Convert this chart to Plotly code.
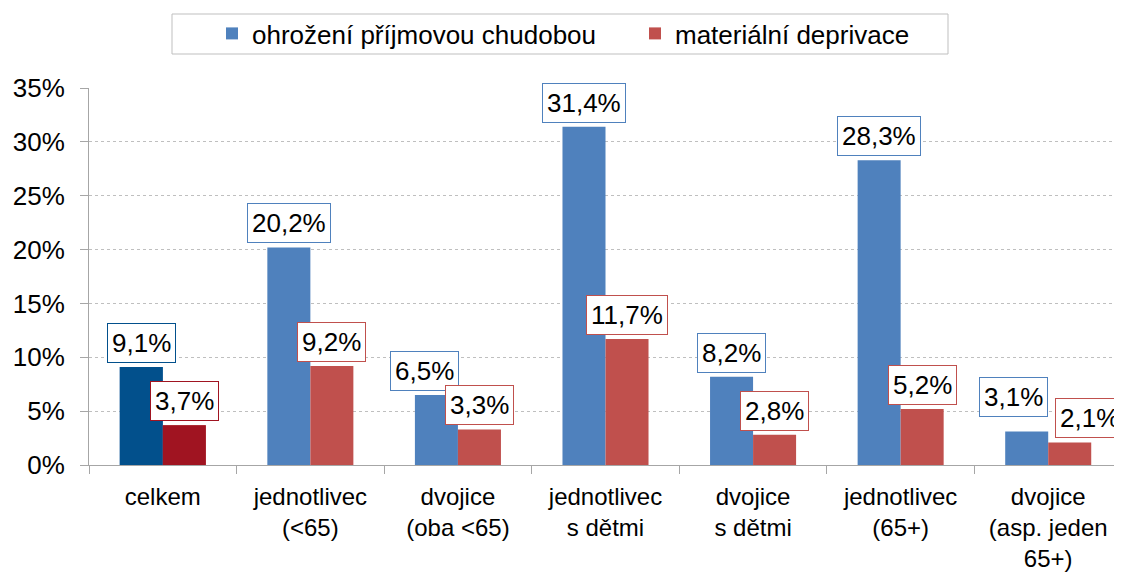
import plotly.graph_objects as go

categories = ["celkem", "jednotlivec<br>(&lt;65)", "dvojice<br>(oba &lt;65)", "jednotlivec<br>s dětmi",
              "dvojice<br>s dětmi", "jednotlivec<br>(65+)", "dvojice<br>(asp. jeden<br>65+)"]
series_names = ["ohrožení příjmovou chudobou", "materiální deprivace"]
poverty = [9.1, 20.2, 6.5, 31.4, 8.2, 28.3, 3.1]
deprivation = [3.7, 9.2, 3.3, 11.7, 2.8, 5.2, 2.1]
y_ticks = [0, 5, 10, 15, 20, 25, 30, 35]

BLUE, RED = "#4F81BD", "#C0504D"
BLUE_D, RED_D = "#02508C", "#A01421"
FONT = "Liberation Sans, Arial, sans-serif"
FS = 26

# the page body adds an 8px offset, so the figure is laid out 8px smaller
OFF = 8
W, H = 1122 - OFF, 572 - OFF
ML, MT = 89 - OFF, 88 - OFF
MR, MB = 0, 572 - 465
PW, PH = W - ML - MR, H - MT - MB

n = len(categories)
idx = list(range(n))
bargap = 0.417
half = (1 - bargap) / 2

# label nudges (px) to mimic the reference's collision avoidance:
# category index -> (blue dx, blue extra dy, red dx, red extra dy)
label_nudge = {2: (-12, 0, 0, 0), 6: (-13, 11, 20, 0)}

fig = go.Figure()
fig.add_bar(x=idx, y=poverty, name=series_names[0], offsetgroup="a",
            marker=dict(color=BLUE, line=dict(width=0)))
fig.add_bar(x=idx, y=deprivation, name=series_names[1], offsetgroup="b",
            marker=dict(color=RED, line=dict(width=0)))
# highlighted "celkem" bars (darker colours), overlaid at the same positions
fig.add_bar(x=idx[:1], y=poverty[:1], offsetgroup="a", showlegend=False,
            marker=dict(color=BLUE_D, line=dict(width=0)))
fig.add_bar(x=idx[:1], y=deprivation[:1], offsetgroup="b", showlegend=False,
            marker=dict(color=RED_D, line=dict(width=0)))

blue_borders = [BLUE_D] + [BLUE] * (n - 1)
red_borders = [RED_D] + [RED] * (n - 1)


def fmt(v):
    return f"{v:.1f}".replace(".", ",") + "%"


annotations = []
for i, (b, r) in enumerate(zip(poverty, deprivation)):
    bdx, bdy, rdx, rdy = label_nudge.get(i, (0, 0, 0, 0))
    annotations.append(dict(x=i - half / 2, y=b, text=fmt(b), showarrow=False,
                            yanchor="bottom", yshift=4 + bdy, xshift=bdx,
                            font=dict(size=FS, color="black", family=FONT),
                            bgcolor="white", bordercolor=blue_borders[i], borderwidth=1, borderpad=4))
    annotations.append(dict(x=i + half / 2, y=r, text=fmt(r), showarrow=False,
                            yanchor="bottom", yshift=4 + rdy, xshift=rdx,
                            font=dict(size=FS, color="black", family=FONT),
                            bgcolor="white", bordercolor=red_borders[i], borderwidth=1, borderpad=4))


def px_x(p):
    return (p - OFF - ML) / PW


def px_y(p):
    return (H - MB - (p - OFF)) / PH


# legend frame (page pixels 172..948 x 14..54)
shapes = [dict(type="rect", xref="paper", yref="paper",
               x0=px_x(172), x1=px_x(948), y0=px_y(54), y1=px_y(14),
               line=dict(color="#BFBFBF", width=1), fillcolor="white", layer="below")]

fig.update_layout(
    width=W, height=H,
    margin=dict(l=ML, r=MR, t=MT, b=MB, autoexpand=False),
    paper_bgcolor="white", plot_bgcolor="white",
    barmode="group", bargap=bargap, bargroupgap=0,
    font=dict(family=FONT, size=FS, color="black"),
    showlegend=True,
    legend=dict(orientation="h", xref="container", x=(212 - OFF) / W, xanchor="left",
                yref="container", y=1 - 2 / H, yanchor="top",
                borderwidth=0, bgcolor="rgba(0,0,0,0)",
                font=dict(size=FS, family=FONT), entrywidth=378, entrywidthmode="pixels"),
    annotations=annotations,
    shapes=shapes,
)
fig.update_xaxes(type="linear", tickmode="array", tickvals=idx,
                 ticktext=categories, range=[-0.5, n - 0.5],
                 tickfont=dict(size=24), ticklabelstandoff=10,
                 showline=True, linecolor="#A6A6A6", linewidth=1,
                 ticks="", showgrid=False, zeroline=False,
                 minor=dict(tickvals=[i - 0.5 for i in range(n + 1)],
                            ticks="outside", ticklen=8, tickcolor="#A6A6A6", showgrid=False))
fig.update_yaxes(range=[0, 35], tickvals=y_ticks, ticktext=[f"{t}%" for t in y_ticks],
                 ticklabelstandoff=10,
                 showline=True, linecolor="#A6A6A6", linewidth=1,
                 ticks="outside", ticklen=8, tickcolor="#A6A6A6",
                 showgrid=True, gridcolor="#BFBFBF", griddash="3px,3px", gridwidth=1,
                 zeroline=False)

fig.write_html("out.html")
